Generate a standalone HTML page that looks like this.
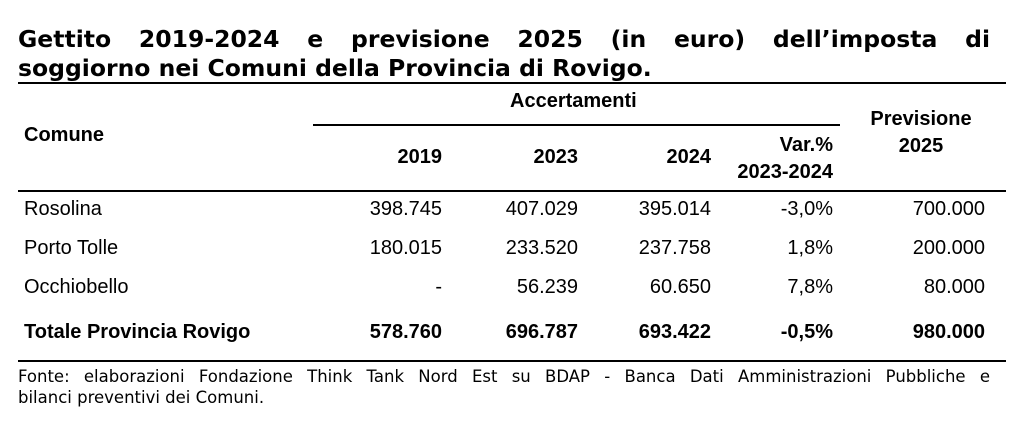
<!DOCTYPE html>
<html><head><meta charset="utf-8"><style>
body{margin:0;width:1024px;height:430px;background:#fff;position:relative;overflow:hidden;font-family:"Liberation Sans",Arial,sans-serif;color:#000}
.a{position:absolute;white-space:nowrap}
.t{font-family:"DejaVu Sans",Verdana,sans-serif;font-weight:bold;font-size:23.5px;letter-spacing:0}
.f{font-family:"DejaVu Sans",Verdana,sans-serif;font-size:16.5px;letter-spacing:0}
.just{text-align:justify;text-align-last:justify}
.b{font-weight:bold}
.c{font-size:20px}
.r{text-align:right}
.ln{position:absolute;background:#000}
</style></head><body>
<div class="a t just" style="left:18px;top:25px;width:972px">Gettito 2019-2024 e previsione 2025 (in euro) dell’imposta di</div>
<div class="a t" style="left:18px;top:54px">soggiorno nei Comuni della Provincia di Rovigo.</div>
<div class="ln" style="left:18px;top:82px;width:988px;height:2px"></div>
<div class="a c b" style="left:510px;top:90px">Accertamenti</div>
<div class="ln" style="left:313px;top:124px;width:527px;height:2px"></div>
<div class="a c b" style="left:24px;top:124px">Comune</div>
<div class="a c b r" style="left:342px;top:146px;width:100px">2019</div>
<div class="a c b r" style="left:478px;top:146px;width:100px">2023</div>
<div class="a c b r" style="left:611px;top:146px;width:100px">2024</div>
<div class="a c b r" style="left:690px;top:132px;width:143px;line-height:27px">Var.%<br>2023-2024</div>
<div class="a c b" style="left:840px;top:106px;width:162px;text-align:center;line-height:27px">Previsione<br>2025</div>
<div class="ln" style="left:18px;top:190px;width:988px;height:2px"></div>

<div class="a c" style="left:24px;top:198px">Rosolina</div>
<div class="a c r" style="left:322px;top:198px;width:120px">398.745</div>
<div class="a c r" style="left:458px;top:198px;width:120px">407.029</div>
<div class="a c r" style="left:591px;top:198px;width:120px">395.014</div>
<div class="a c r" style="left:713px;top:198px;width:120px">-3,0%</div>
<div class="a c r" style="left:865px;top:198px;width:120px">700.000</div>

<div class="a c" style="left:24px;top:237px">Porto Tolle</div>
<div class="a c r" style="left:322px;top:237px;width:120px">180.015</div>
<div class="a c r" style="left:458px;top:237px;width:120px">233.520</div>
<div class="a c r" style="left:591px;top:237px;width:120px">237.758</div>
<div class="a c r" style="left:713px;top:237px;width:120px">1,8%</div>
<div class="a c r" style="left:865px;top:237px;width:120px">200.000</div>

<div class="a c" style="left:24px;top:276px">Occhiobello</div>
<div class="a c r" style="left:322px;top:276px;width:120px">-</div>
<div class="a c r" style="left:458px;top:276px;width:120px">56.239</div>
<div class="a c r" style="left:591px;top:276px;width:120px">60.650</div>
<div class="a c r" style="left:713px;top:276px;width:120px">7,8%</div>
<div class="a c r" style="left:865px;top:276px;width:120px">80.000</div>

<div class="a c b" style="left:24px;top:321px">Totale Provincia Rovigo</div>
<div class="a c b r" style="left:322px;top:321px;width:120px">578.760</div>
<div class="a c b r" style="left:458px;top:321px;width:120px">696.787</div>
<div class="a c b r" style="left:591px;top:321px;width:120px">693.422</div>
<div class="a c b r" style="left:713px;top:321px;width:120px">-0,5%</div>
<div class="a c b r" style="left:865px;top:321px;width:120px">980.000</div>

<div class="ln" style="left:18px;top:360px;width:988px;height:2px"></div>
<div class="a f just" style="left:18px;top:367px;width:972px">Fonte: elaborazioni Fondazione Think Tank Nord Est su BDAP - Banca Dati Amministrazioni Pubbliche e</div>
<div class="a f" style="left:18px;top:388px">bilanci preventivi dei Comuni.</div>
</body></html>
